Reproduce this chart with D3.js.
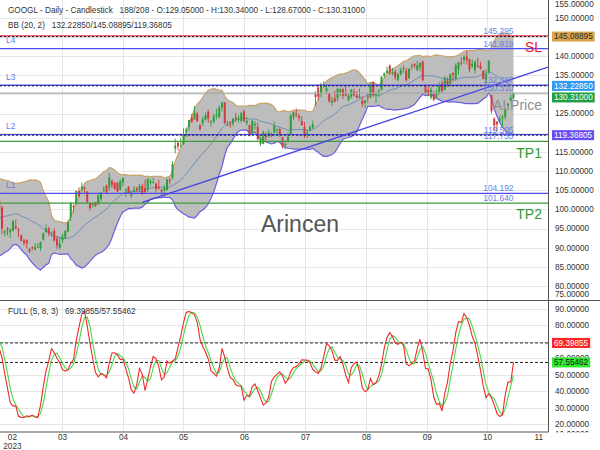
<!DOCTYPE html>
<html><head><meta charset="utf-8">
<script src="https://cdn.jsdelivr.net/npm/d3@7"></script>
<style>
body{margin:0;background:#fff}
svg{display:block}
text{font-family:"Liberation Sans",Arial,sans-serif}
</style>
</head><body>
<svg id="c" width="600" height="450"></svg>
<script>
// ---------- DATA ----------
const symbol = "GOOGL";
const totalSlots = 208;
// warm-up bars (Jan 11 - Feb 7 2023), only used for indicators
const warmHighs = [91.6,91.9,92.4,92.8,93.3,93.9,98.2,101.2,98.9,96.6,97.6,99.6,99.0,99.3,101.7,108.8,108.0,104.0,108.7];
const warmLows  = [89.0,89.8,90.1,90.9,90.9,90.2,94.3,97.6,96.9,93.6,94.8,97.3,96.9,96.9,97.6,106.0,103.3,102.0,103.5];
const warmCloses= [91.5,91.1,92.1,91.3,91.1,93.9,98.0,100.0,97.7,95.2,97.5,99.4,97.0,98.8,100.4,107.7,104.8,102.9,107.6];

const opens = [
102.7,100.5,93.9,95.0,94.0,94.4,95.5,94.7,93.2,91.9,92.1,89.6,90.1,89.5,
90.2,89.9,92.1,94.1,95.0,93.8,94.4,92.3,90.0,92.0,92.6,94.2,98.0,100.9,101.5,104.8,105.0,105.7,104.6,101.5,101.2,101.9,101.4,
102.7,104.8,106.1,105.8,107.4,106.9,106.9,105.1,107.0,104.9,105.9,103.6,104.6,105.5,105.0,106.1,105.6,105.2,106.9,
107.0,106.8,105.8,105.1,105.0,105.0,107.7,108.3,115.9,117.4,116.5,116.9,120.2,121.6,123.9,123.5,124.9,121.9,122.5,123.4,125.5,122.8,
122.9,124.3,124.1,126.6,127.9,121.8,122.4,122.4,124.0,123.4,123.1,125.6,122.6,122.0,119.8,122.0,121.5,117.1,117.1,119.2,119.7,
119.2,120.1,120.6,120.9,118.8,116.8,117.9,119.6,124.0,124.9,124.3,123.0,121.5,119.7,120.8,121.4,130.0,131.8,130.2,132.6,
130.9,130.2,127.9,129.0,129.0,130.5,131.3,130.3,128.6,129.4,130.7,129.7,129.3,128.3,127.7,129.4,129.2,133.2,129.8,130.7,131.2,134.9,135.6,
137.5,135.4,135.9,133.9,135.2,136.8,136.2,134.3,137.2,137.9,136.4,137.1,138.6,132.4,131.1,129.2,130.2,129.4,130.2,132.9,
131.2,133.6,132.8,135.5,134.1,136.5,138.3,139.0,139.9,139.2,137.4,136.4,137.5,137.5,136.2,133.7,135.8,129.8,123.6,122.9,123.0,123.8,
124.1,127.1,128.4,129.05];
const highs = [
103.3,101.0,94.7,95.4,95.2,97.3,97.3,95.2,93.4,92.2,92.1,89.9,90.4,91.2,
91.2,91.6,94.0,96.1,95.5,94.2,95.1,93.1,92.9,93.7,94.5,97.2,102.0,101.3,104.9,105.8,107.0,106.0,104.8,101.9,101.8,101.9,103.9,
104.6,106.1,106.5,109.6,107.9,107.2,107.2,107.9,108.3,105.5,106.1,105.0,106.1,105.9,106.6,106.7,107.8,108.2,107.9,
108.2,106.8,107.7,105.4,106.4,108.0,108.2,112.6,118.4,117.5,118.8,121.2,121.3,123.3,124.9,127.0,125.5,122.3,124.3,125.3,126.0,123.3,
125.0,126.2,127.1,128.0,128.0,123.1,123.0,123.8,125.2,124.5,125.5,126.1,124.1,122.1,123.2,123.0,122.7,118.9,120.5,120.0,120.8,
120.1,122.9,121.1,121.3,118.9,117.5,120.0,124.9,125.5,126.3,124.9,124.4,122.8,120.8,121.9,123.2,130.8,132.6,133.0,133.5,
132.2,130.4,129.4,131.0,131.6,131.5,131.7,132.2,130.1,131.4,131.5,130.9,131.5,129.5,128.6,130.3,133.0,133.4,130.6,131.3,134.8,135.7,137.2,
137.8,136.9,136.4,135.5,137.0,137.6,137.0,136.7,138.1,138.2,138.8,138.4,138.8,132.7,132.0,131.9,130.9,131.3,133.1,133.6,
134.8,134.5,135.5,135.8,138.1,138.4,139.7,140.2,141.2,139.3,139.1,138.9,139.6,138.5,136.3,136.5,138.9,129.8,124.1,123.0,124.4,124.8,
126.3,127.7,130.0,130.34];
const lows = [
98.5,93.5,92.9,93.2,92.6,94.3,94.8,92.8,91.6,90.6,89.8,88.6,89.3,89.4,
89.9,89.1,91.9,93.8,93.0,92.8,91.6,89.6,89.5,91.2,92.3,94.0,97.0,99.2,101.2,103.2,104.7,104.0,101.4,99.7,100.4,100.6,101.2,
102.1,104.6,104.1,104.8,105.5,105.0,104.6,104.9,106.0,103.2,104.0,102.9,104.5,104.6,104.5,103.8,104.0,104.5,106.3,
106.7,104.4,105.2,103.7,104.3,105.0,106.5,107.8,114.6,115.4,116.4,116.8,118.9,120.6,122.6,123.4,122.9,120.6,121.7,123.2,122.6,121.6,
122.5,123.5,123.7,125.5,122.3,121.7,121.3,121.7,122.8,122.6,122.7,122.9,122.0,119.0,119.5,120.9,118.0,116.5,117.0,118.1,118.8,
118.8,119.8,119.2,118.9,115.8,115.7,117.5,119.5,123.3,124.0,123.0,121.8,118.6,118.6,120.4,121.0,127.0,128.5,129.3,131.7,
130.1,127.8,127.0,127.9,128.2,129.5,128.8,129.5,128.1,128.9,129.5,128.9,128.9,126.7,126.5,127.8,129.0,129.4,127.7,129.3,131.0,134.4,135.5,
135.1,135.0,133.8,133.4,134.9,135.7,133.4,134.0,136.3,136.8,136.1,136.0,133.4,130.0,129.6,128.7,128.2,128.8,130.0,130.5,
131.0,131.9,132.2,133.3,133.5,135.1,137.5,138.0,137.8,135.7,136.9,135.4,137.0,136.5,133.9,132.6,135.3,125.0,120.6,120.3,122.8,121.5,
123.5,125.9,128.2,128.67];
const closes = [
99.4,95.0,94.3,94.7,94.7,96.9,95.0,94.4,91.8,91.2,91.1,89.1,89.9,90.1,
90.3,91.5,93.7,95.1,93.7,93.9,91.9,90.6,91.1,93.0,94.4,96.6,101.6,100.6,104.8,103.4,105.9,105.4,102.0,100.3,101.4,100.9,103.7,
104.4,105.1,104.4,108.4,106.4,105.4,104.6,107.4,108.2,105.1,104.2,104.4,105.1,105.0,106.1,104.0,104.5,107.9,107.3,
107.2,105.3,105.4,104.7,105.6,107.8,107.4,111.8,116.6,116.5,116.6,119.5,120.8,123.3,122.8,125.1,123.0,120.9,123.5,124.6,123.7,122.9,
124.4,124.7,126.6,127.9,122.5,122.1,122.2,123.6,123.8,123.7,125.1,123.0,123.1,119.3,123.2,122.3,118.3,118.3,120.2,119.1,120.0,
119.9,121.8,120.9,119.5,116.4,117.1,118.9,124.5,125.4,124.7,123.8,122.0,119.2,120.0,121.5,122.2,129.3,129.4,132.6,132.7,
131.6,128.2,128.4,128.1,131.5,131.4,129.7,129.7,129.6,131.3,129.8,129.1,129.5,127.5,128.4,129.1,132.4,129.8,129.9,131.0,134.6,135.5,136.2,
135.7,135.8,134.5,135.3,136.4,136.9,133.7,136.7,137.5,137.4,137.6,138.2,133.7,130.4,130.0,131.3,128.6,130.3,132.3,130.9,
134.2,132.4,135.2,135.1,137.6,138.4,138.1,139.8,138.9,136.5,138.0,138.4,137.3,136.7,134.0,135.2,138.8,125.6,121.9,122.2,123.6,124.1,
126.2,127.6,129.1,130.31];

const monthLabels  = ["02","03","04","05","06","07","08","09","10","11"];
const monthTickIdx = [4.6,22.8,45.0,66.8,89.0,111.2,133.4,155.5,177.4,196.0];
const yearLabel = "2023";
const priceTicks = [75,80,85,90,95,100,105,110,115,120,125,130,135,140,145,150,155];
const stochTicks = [10,20,30,40,50,60,70,80,90];

const levelNames  = ["SL","L4","L3","AI Price","L2","TP1","L1","TP2"];
const levelValues = [145.295,141.919,132.387,130.310,119.505,117.755,104.192,101.640];
const bbLast = [132.22850,145.08895,119.36805];  // mid / upper / lower
const stochLast = [69.39855,57.55462];           // %K / %D
const trendIdx = [52,187];
const trendPrice = [101.8,134.1];

// ---------- SCALES ----------
const N = closes.length;
const svg = d3.select("#c");
const plotR = 548;
const x = d3.scaleLinear().domain([0,187]).range([-0.75,513.5]);
const y = d3.scaleLinear().domain([76.36,154.63]).range([300,0]);
const ys = d3.scaleLinear().domain([90,20]).range([309,424.3]);
const f5 = d3.format(".5f"), f3 = d3.format(".3f");
const SP3 = "\u00a0\u00a0\u00a0";

// ---------- INDICATORS ----------
const W = warmCloses.length;
const allC = warmCloses.concat(closes), allH = warmHighs.concat(highs), allL = warmLows.concat(lows);
const bb = closes.map((c,i)=>{const j=i+W;const win=allC.slice(j-19,j+1);const m=d3.mean(win);
  const sd=Math.sqrt(d3.mean(win,v=>(v-m)*(v-m)));return {i,mid:m,up:m+2*sd,lo:m-2*sd};});
const rawK = allC.map((c,j)=>{if(j<4)return null;const hh=d3.max(allH.slice(j-4,j+1)),ll=d3.min(allL.slice(j-4,j+1));return (c-ll)/(hh-ll)*100;});
const slowK = rawK.map((v,j)=>j<11?null:d3.mean(rawK.slice(j-7,j+1)));
const dL = slowK.map((v,j)=>j<13?null:d3.mean(slowK.slice(j-2,j+1)));
const st = closes.map((c,i)=>({i,k:slowK[i+W],d:dL[i+W]}));

// ---------- CLIPS ----------
const defs = svg.append("defs");
defs.append("clipPath").attr("id","cm").append("rect").attr("x",0).attr("y",0).attr("width",plotR).attr("height",300.5);
defs.append("clipPath").attr("id","cs").append("rect").attr("x",0).attr("y",301).attr("width",plotR).attr("height",131);
defs.append("clipPath").attr("id","ca").append("rect").attr("x",548).attr("y",301).attr("width",52).attr("height",131.5);

// ---------- GRID ----------
const grid = svg.append("g").attr("stroke","#e6e6e6").attr("stroke-width",1);
priceTicks.forEach(p=>{const yy=Math.round(y(p))+0.5; if(yy>0&&yy<300) grid.append("line").attr("x1",0).attr("x2",plotR).attr("y1",yy).attr("y2",yy);});
stochTicks.forEach(v=>{const yy=Math.round(ys(v))+0.5; if(yy>301&&yy<432) grid.append("line").attr("x1",0).attr("x2",plotR).attr("y1",yy).attr("y2",yy);});
monthTickIdx.slice(1,9).forEach(t=>{const xx=Math.round(x(t))+0.5;
  grid.append("line").attr("x1",xx).attr("x2",xx).attr("y1",0).attr("y2",300);
  grid.append("line").attr("x1",xx).attr("x2",xx).attr("y1",301).attr("y2",432);});

// ---------- MAIN PANEL ----------
const gm = svg.append("g").attr("clip-path","url(#cm)");
gm.append("path").datum(bb).attr("fill","#bdbdbd")
  .attr("d",d3.area().x(d=>x(d.i)).y0(d=>y(d.lo)).y1(d=>y(d.up)));
gm.append("path").datum(bb).attr("fill","none").attr("stroke","#c9a46a").attr("stroke-width",1.2)
  .attr("d",d3.line().x(d=>x(d.i)).y(d=>y(d.up)));
gm.append("path").datum(bb).attr("fill","none").attr("stroke","#6b5fe0").attr("stroke-width",1.2)
  .attr("d",d3.line().x(d=>x(d.i)).y(d=>y(d.lo)));
gm.append("path").datum(bb).attr("fill","none").attr("stroke","#6489b4").attr("stroke-width",0.9)
  .attr("d",d3.line().x(d=>x(d.i)).y(d=>y(d.mid)));

svg.append("text").attr("x",300).attr("y",232).attr("text-anchor","middle")
  .attr("font-size",23).attr("fill","#555").text("Arincen");

// candles
const cg = gm.append("g");
closes.forEach((c,i)=>{
  const o=opens[i], up=c>=o, col=up?"#2f9e3a":"#d23c3c";
  const xx=x(i);
  cg.append("line").attr("x1",xx).attr("x2",xx).attr("y1",y(highs[i])).attr("y2",y(lows[i]))
    .attr("stroke",col).attr("stroke-width",0.9);
  const t=y(Math.max(o,c)), b=y(Math.min(o,c));
  cg.append("rect").attr("x",xx-1).attr("width",2).attr("y",t).attr("height",Math.max(1,b-t)).attr("fill",col);
});

// level lines
const styleOf = n => n==="SL"?{c:"#e0303a",w:1.3}: n.startsWith("TP")?{c:"#3c9c3c",w:1.2}: n==="AI Price"?{c:"#a9a9a9",w:1.3}:{c:"#4e4ef0",w:1.3};
levelNames.forEach((n,k)=>{const s=styleOf(n), yy=y(levelValues[k]);
  gm.append("line").attr("x1",0).attr("x2",plotR).attr("y1",yy).attr("y2",yy).attr("stroke",s.c).attr("stroke-width",s.w);});
// BB current-value dotted lines
bbLast.forEach(v=>{const yy=y(v);
  gm.append("line").attr("x1",0).attr("x2",plotR).attr("y1",yy).attr("y2",yy)
    .attr("stroke","#1a1a3a").attr("stroke-width",1).attr("stroke-dasharray","2,2");});

// trend line (ray to the right edge)
const slope=(trendPrice[1]-trendPrice[0])/(trendIdx[1]-trendIdx[0]);
const iEnd=x.invert(plotR);
gm.append("line").attr("x1",x(trendIdx[0])).attr("y1",y(trendPrice[0]))
  .attr("x2",x(iEnd)).attr("y2",y(trendPrice[0]+slope*(iEnd-trendIdx[0])))
  .attr("stroke","#4545e6").attr("stroke-width",1.3);

// level texts
levelNames.forEach((n,k)=>{const v=levelValues[k], yy=y(v);
  svg.append("text").attr("x",x(N-1)).attr("y",yy-2).attr("text-anchor","end").attr("font-size",8.4)
    .attr("fill","#6a7fe6").text(f3(v));
  if(n[0]==="L"){
    svg.append("text").attr("x",6).attr("y",yy-5.5).attr("font-size",8.4).attr("fill","#6a7ae8").text(n);
  } else {
    svg.append("text").attr("x",542).attr("y",yy+16.3).attr("text-anchor","end").attr("font-size",14)
      .attr("fill",n==="SL"?"#e8202c":n==="AI Price"?"#8e8e8e":"#2e9a2e").text(n);
  }
});

// ---------- STOCH PANEL ----------
const gs = svg.append("g").attr("clip-path","url(#cs)");
stochLast.forEach(v=>{const yy=ys(v);
  gs.append("line").attr("x1",0).attr("x2",plotR).attr("y1",yy).attr("y2",yy)
    .attr("stroke","#222").attr("stroke-width",1).attr("stroke-dasharray","3,2");});
gs.append("path").datum(st).attr("fill","none").attr("stroke","#4ad84a").attr("stroke-width",1.1)
  .attr("d",d3.line().x(d=>x(d.i)).y(d=>ys(d.d)));
gs.append("path").datum(st).attr("fill","none").attr("stroke","#f02a2a").attr("stroke-width",1.1)
  .attr("d",d3.line().x(d=>x(d.i)).y(d=>ys(d.k)));

// ---------- FRAME ----------
svg.append("line").attr("x1",plotR+0.5).attr("x2",plotR+0.5).attr("y1",0).attr("y2",432).attr("stroke","#555");
svg.append("line").attr("x1",0).attr("x2",600).attr("y1",300.5).attr("y2",300.5).attr("stroke","#555");
svg.append("line").attr("x1",0).attr("x2",plotR+0.5).attr("y1",432).attr("y2",432).attr("stroke","#555");

// ---------- TAG POSITIONS ----------
const mainTags=[{v:bbLast[1],bg:"#d9a44c",fg:"#2a2a2a"},{v:bbLast[0],bg:"#3399ee",fg:"#fff"},
  {v:closes[N-1],bg:"#23a045",fg:"#fff"},{v:bbLast[2],bg:"#6a4cf0",fg:"#fff"}];
let prev=-100;
const mt = mainTags.map(t=>({...t,y:y(t.v)})).sort((a,b)=>a.y-b.y).map(t=>{
  let yy=t.y; if(yy<prev+11.6) yy=prev+11.6; prev=yy; return {...t,y:yy};});
const stTags=[{v:stochLast[0],bg:"#ff2424",fg:"#fff",y:ys(stochLast[0])},{v:stochLast[1],bg:"#2ee82e",fg:"#1a1a1a",y:ys(stochLast[1])}];

// ---------- AXES LABELS ----------
const ax = svg.append("g").attr("font-size",8.2).attr("fill","#333");
priceTicks.forEach(p=>{const yy=Math.max(4.5,Math.min(294,y(p)));
  if(mt.some(t=>Math.abs(t.y-yy)<4.5)) return;          // fully covered by a value tag
  ax.append("text").attr("x",555).attr("y",yy).attr("dy","0.35em").text(f5(p));});
const axs = svg.append("g").attr("font-size",8.2).attr("fill","#333").attr("clip-path","url(#ca)");
stochTicks.forEach(v=>{const yy=Math.min(434.5,ys(v));
  if(stTags.some(t=>Math.abs(t.y-yy)<3)) return;
  axs.append("text").attr("x",555).attr("y",yy).attr("dy","0.35em").text(f5(v));});
monthLabels.forEach((m,k)=>{
  ax.append("text").attr("x",x(monthTickIdx[k])+0.5).attr("y",440).attr("text-anchor","middle").text(m);});
ax.append("text").attr("x",x(monthTickIdx[0])+0.5).attr("y",448.5).attr("text-anchor","middle").text(yearLabel);

// tags
function tag(yy,val,bg,fg){
  const g=svg.append("g");
  const r=g.append("rect").attr("x",552).attr("y",yy-5).attr("height",10).attr("fill",bg);
  const t=g.append("text").attr("x",554).attr("y",yy).attr("dy","0.35em").attr("font-size",8.2).attr("fill",fg).text(f5(val));
  r.attr("width",t.node().getComputedTextLength()+4);
}
mt.forEach(t=>tag(t.y,t.v,t.bg,t.fg));
stTags.forEach(t=>tag(t.y,t.v,t.bg,t.fg));

// ---------- HEADERS ----------
const hd = svg.append("g").attr("font-size",8.2).attr("fill","#333");
hd.append("text").attr("x",8).attr("y",12.7)
  .text(`${symbol} - Daily - Candlestick${SP3}${N}/${totalSlots} - O:${f5(opens[N-1])} - H:${f5(highs[N-1])} - L:${f5(lows[N-1])} - C:${f5(closes[N-1])}`);
hd.append("text").attr("x",8).attr("y",28).text(`BB (20, 2)${SP3}${f5(bbLast[0])}/${f5(bbLast[1])}/${f5(bbLast[2])}`);
hd.append("text").attr("x",8).attr("y",314).text(`FULL (5, 8, 3)${SP3}${f5(stochLast[0])}/${f5(stochLast[1])}`);
</script>
</body></html>
